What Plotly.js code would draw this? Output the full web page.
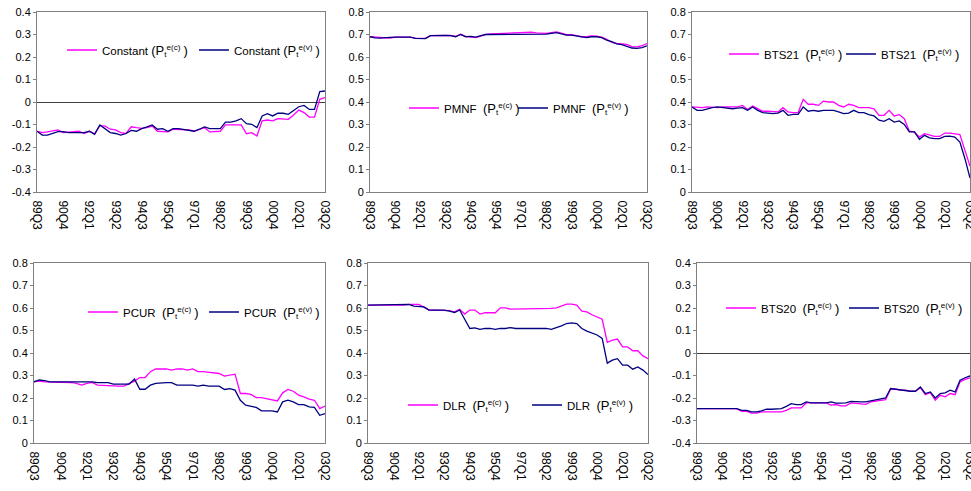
<!DOCTYPE html>
<html>
<head>
<meta charset="utf-8">
<script src="https://cdn.plot.ly/plotly-3.0.1.min.js"></script>
<style>html,body{margin:0;padding:0;background:#fff;}#chart{width:971px;height:491px;}</style>
</head>
<body>
<div id="chart"></div>
<script>
// ---- categories (quarters) ----
const quarters = [
 '89Q3','89Q4',
 '90Q1','90Q2','90Q3','90Q4','91Q1','91Q2','91Q3','91Q4',
 '92Q1','92Q2','92Q3','92Q4','93Q1','93Q2','93Q3','93Q4',
 '94Q1','94Q2','94Q3','94Q4','95Q1','95Q2','95Q3','95Q4',
 '96Q1','96Q2','96Q3','96Q4','97Q1','97Q2','97Q3','97Q4',
 '98Q1','98Q2','98Q3','98Q4','99Q1','99Q2','99Q3','99Q4',
 '00Q1','00Q2','00Q3','00Q4','01Q1','01Q2','01Q3','01Q4',
 '02Q1','02Q2','02Q3','02Q4','03Q1','03Q2'];
const xTickLabels = ['89Q3','90Q4','92Q1','93Q2','94Q3','95Q4','97Q1','98Q2','99Q3','00Q4','02Q1','03Q2'];

// ---- y tick labels ----
const yTicksSym = [-0.4,-0.3,-0.2,-0.1,0,0.1,0.2,0.3,0.4];
const yTextSym  = ['-0.4','-0.3','-0.2','-0.1','0','0.1','0.2','0.3','0.4'];
const yTicksPos = [0,0.1,0.2,0.3,0.4,0.5,0.6,0.7,0.8];
const yTextPos  = ['0','0.1','0.2','0.3','0.4','0.5','0.6','0.7','0.8'];

// ---- series ----
const constantC = [-0.13,-0.136,-0.133,-0.13,-0.124,-0.136,-0.133,-0.133,-0.13,-0.14,-0.13,-0.142,-0.105,-0.107,-0.121,-0.124,-0.136,-0.14,-0.11,-0.114,-0.117,-0.114,-0.107,-0.13,-0.133,-0.133,-0.121,-0.121,-0.121,-0.124,-0.13,-0.121,-0.114,-0.133,-0.13,-0.13,-0.102,-0.102,-0.102,-0.102,-0.141,-0.136,-0.151,-0.084,-0.08,-0.084,-0.074,-0.074,-0.077,-0.058,-0.036,-0.047,-0.067,-0.067,0.012,0.02];
const constantV = [-0.13,-0.147,-0.147,-0.14,-0.132,-0.132,-0.136,-0.136,-0.136,-0.136,-0.13,-0.144,-0.102,-0.118,-0.136,-0.14,-0.147,-0.14,-0.126,-0.13,-0.118,-0.111,-0.102,-0.121,-0.118,-0.13,-0.118,-0.118,-0.121,-0.124,-0.13,-0.121,-0.111,-0.118,-0.118,-0.118,-0.089,-0.089,-0.084,-0.074,-0.096,-0.099,-0.114,-0.062,-0.052,-0.062,-0.05,-0.05,-0.055,-0.037,-0.021,-0.015,-0.033,-0.033,0.046,0.049];

const pmnfC = [0.690,0.688,0.688,0.686,0.684,0.688,0.688,0.689,0.688,0.684,0.683,0.683,0.695,0.696,0.696,0.696,0.696,0.692,0.701,0.692,0.690,0.686,0.693,0.701,0.703,0.704,0.704,0.704,0.705,0.708,0.710,0.710,0.710,0.707,0.705,0.705,0.708,0.711,0.706,0.699,0.699,0.695,0.690,0.690,0.694,0.693,0.688,0.678,0.665,0.660,0.657,0.656,0.646,0.645,0.650,0.660];
const pmnfV = [0.690,0.685,0.684,0.687,0.687,0.688,0.688,0.688,0.688,0.683,0.682,0.682,0.695,0.696,0.696,0.696,0.695,0.690,0.700,0.690,0.692,0.688,0.695,0.700,0.700,0.701,0.701,0.701,0.701,0.701,0.701,0.701,0.701,0.701,0.701,0.702,0.705,0.708,0.703,0.697,0.697,0.693,0.688,0.686,0.690,0.690,0.686,0.675,0.668,0.658,0.655,0.648,0.640,0.638,0.642,0.650];

const bts21C = [0.378,0.375,0.375,0.378,0.375,0.375,0.378,0.378,0.375,0.378,0.385,0.367,0.382,0.370,0.359,0.359,0.356,0.356,0.375,0.356,0.353,0.353,0.412,0.390,0.390,0.385,0.404,0.400,0.400,0.385,0.378,0.390,0.385,0.375,0.375,0.375,0.370,0.341,0.341,0.363,0.338,0.344,0.326,0.270,0.267,0.244,0.259,0.252,0.247,0.247,0.262,0.262,0.259,0.255,0.185,0.115];
const bts21V = [0.378,0.363,0.363,0.370,0.375,0.378,0.375,0.370,0.370,0.373,0.375,0.363,0.378,0.363,0.353,0.351,0.348,0.351,0.363,0.341,0.345,0.345,0.378,0.359,0.363,0.359,0.363,0.363,0.363,0.356,0.348,0.351,0.363,0.353,0.353,0.344,0.338,0.319,0.314,0.326,0.311,0.316,0.300,0.267,0.267,0.234,0.252,0.241,0.237,0.237,0.247,0.248,0.244,0.222,0.148,0.062];

const pcurC = [0.272,0.275,0.272,0.272,0.272,0.272,0.272,0.269,0.265,0.257,0.265,0.269,0.257,0.257,0.257,0.254,0.253,0.253,0.265,0.275,0.291,0.291,0.317,0.329,0.329,0.329,0.324,0.329,0.329,0.324,0.329,0.317,0.317,0.314,0.312,0.309,0.297,0.302,0.306,0.220,0.220,0.216,0.202,0.202,0.198,0.193,0.187,0.223,0.238,0.230,0.213,0.205,0.195,0.190,0.153,0.164];
const pcurV = [0.272,0.280,0.277,0.272,0.272,0.272,0.272,0.272,0.272,0.272,0.272,0.272,0.268,0.268,0.268,0.262,0.262,0.262,0.262,0.284,0.239,0.239,0.257,0.265,0.268,0.268,0.268,0.257,0.257,0.257,0.257,0.253,0.257,0.253,0.253,0.253,0.238,0.242,0.235,0.190,0.168,0.164,0.158,0.143,0.143,0.143,0.138,0.183,0.190,0.183,0.171,0.171,0.161,0.158,0.123,0.131];

const dlrC = [0.613,0.613,0.613,0.613,0.613,0.613,0.610,0.613,0.616,0.616,0.616,0.603,0.591,0.591,0.591,0.591,0.588,0.583,0.594,0.573,0.591,0.591,0.573,0.579,0.579,0.579,0.601,0.601,0.595,0.595,0.595,0.595,0.595,0.595,0.595,0.595,0.598,0.601,0.610,0.617,0.617,0.613,0.586,0.583,0.570,0.560,0.550,0.447,0.457,0.462,0.427,0.427,0.410,0.410,0.387,0.375];
const dlrV = [0.613,0.613,0.613,0.613,0.613,0.613,0.613,0.616,0.616,0.608,0.605,0.605,0.591,0.591,0.591,0.591,0.586,0.580,0.591,0.550,0.509,0.512,0.505,0.509,0.509,0.505,0.509,0.509,0.513,0.509,0.509,0.509,0.509,0.509,0.509,0.509,0.505,0.512,0.521,0.531,0.534,0.531,0.509,0.497,0.487,0.480,0.465,0.355,0.368,0.375,0.346,0.346,0.328,0.338,0.324,0.304];

const bts20C = [-0.247,-0.247,-0.247,-0.247,-0.244,-0.247,-0.247,-0.247,-0.247,-0.259,-0.259,-0.267,-0.267,-0.262,-0.262,-0.262,-0.262,-0.262,-0.255,-0.244,-0.244,-0.244,-0.222,-0.222,-0.222,-0.222,-0.222,-0.232,-0.229,-0.235,-0.235,-0.222,-0.225,-0.228,-0.228,-0.217,-0.213,-0.210,-0.207,-0.161,-0.161,-0.165,-0.165,-0.170,-0.170,-0.154,-0.185,-0.176,-0.210,-0.188,-0.195,-0.180,-0.185,-0.128,-0.117,-0.110];
const bts20V = [-0.247,-0.247,-0.247,-0.247,-0.247,-0.244,-0.247,-0.247,-0.247,-0.255,-0.255,-0.262,-0.262,-0.257,-0.250,-0.250,-0.250,-0.247,-0.237,-0.225,-0.229,-0.229,-0.217,-0.222,-0.222,-0.222,-0.222,-0.217,-0.223,-0.223,-0.222,-0.215,-0.217,-0.217,-0.217,-0.213,-0.206,-0.203,-0.200,-0.158,-0.161,-0.165,-0.165,-0.170,-0.170,-0.151,-0.180,-0.173,-0.200,-0.180,-0.177,-0.165,-0.173,-0.121,-0.110,-0.102];

const panelNames = ['Constant','PMNF','BTS21','PCUR','DLR','BTS20'];
const seriesC = [constantC,pmnfC,bts21C,pcurC,dlrC,bts20C];
const seriesV = [constantV,pmnfV,bts21V,pcurV,dlrV,bts20V];

// ---- layout geometry (pixels) ----
const W = 971, H = 491;
const panels = [
  {x0:37, x1:325, y0:12,  y1:192, sym:true,  leg:[[62,50],[194,50]],  sp:' '},
  {x0:370,x1:647, y0:12,  y1:192, sym:false, leg:[[404,108],[513,108]], sp:'  '},
  {x0:692,x1:970, y0:12,  y1:192, sym:false, leg:[[724,54],[841,54]],  sp:'  '},
  {x0:34, x1:325, y0:263, y1:443, sym:false, leg:[[83,312],[204,312]], sp:'  '},
  {x0:368,x1:648, y0:263, y1:443, sym:false, leg:[[403,405],[527,405]], sp:'  '},
  {x0:697,x1:970, y0:263, y1:443, sym:true,  leg:[[721,308],[844,308]], sp:'  '}
];

const PINK = '#FF00FF', NAVY = '#000080';
const FONT = 'Liberation Sans, Arial, sans-serif';

const traces = [];
const layout = {
  width: W, height: H,
  margin: {l:0, r:0, t:0, b:0},
  paper_bgcolor: '#fff', plot_bgcolor: '#fff',
  font: {family: FONT, size: 11, color: '#000'},
  showlegend: true
};

function sfx(i){ return i === 0 ? '' : String(i+1); }

panels.forEach((p, i) => {
  const s = sfx(i);
  const xa = 'x' + s, ya = 'y' + s;
  const kinds = [['c', seriesC[i], PINK], ['v', seriesV[i], NAVY]];
  kinds.forEach((k, j) => {
    const legId = 'legend' + (i*2 + j === 0 ? '' : String(i*2 + j + 1));
    traces.push({
      type: 'scatter', mode: 'lines',
      x: quarters, y: k[1],
      xaxis: xa, yaxis: ya,
      line: {color: k[2], width: 1.3},
      name: panelNames[i] + p.sp.replace(/ /g,'&nbsp;') +
            '<span style="font-size:13px">(P</span><sub>t</sub><sup>e(' + k[0] + ')</sup>&nbsp;<span style="font-size:13px">)</span>',
      legend: legId,
      hoverinfo: 'skip'
    });
    layout[legId] = {
      x: p.leg[j][0] / W, y: 1 - p.leg[j][1] / H,
      xanchor: 'left', yanchor: 'middle',
      bgcolor: 'rgba(0,0,0,0)', borderwidth: 0,
      font: {family: FONT, size: 11.5, color: '#000'},
      itemwidth: 30, tracegroupgap: 0
    };
  });
  layout['xaxis' + s] = {
    domain: [p.x0 / W, p.x1 / W],
    anchor: ya,
    type: 'category',
    range: [0, quarters.length - 1],
    tickmode: 'array', tickvals: xTickLabels, ticktext: xTickLabels,
    tickangle: 90,
    ticks: 'outside', ticklen: 5, tickcolor: 'rgba(0,0,0,0)',
    tickfont: {family: FONT, size: 12, color: '#000'},
    showline: true, linecolor: '#808080', linewidth: 1, mirror: true,
    showgrid: false, zeroline: false, fixedrange: true
  };
  layout['yaxis' + s] = {
    domain: [1 - p.y1 / H, 1 - p.y0 / H],
    anchor: xa,
    range: p.sym ? [-0.4, 0.4] : [0, 0.8],
    tickmode: 'array',
    tickvals: p.sym ? yTicksSym : yTicksPos,
    ticktext: p.sym ? yTextSym : yTextPos,
    ticks: 'outside', ticklen: 3, tickcolor: '#808080',
    tickfont: {family: FONT, size: 11, color: '#000'},
    showline: true, linecolor: '#808080', linewidth: 1, mirror: true,
    showgrid: false,
    zeroline: p.sym, zerolinecolor: '#404040', zerolinewidth: 1,
    fixedrange: true
  };
});

Plotly.newPlot('chart', traces, layout, {staticPlot: true, displayModeBar: false});
</script>
</body>
</html>
